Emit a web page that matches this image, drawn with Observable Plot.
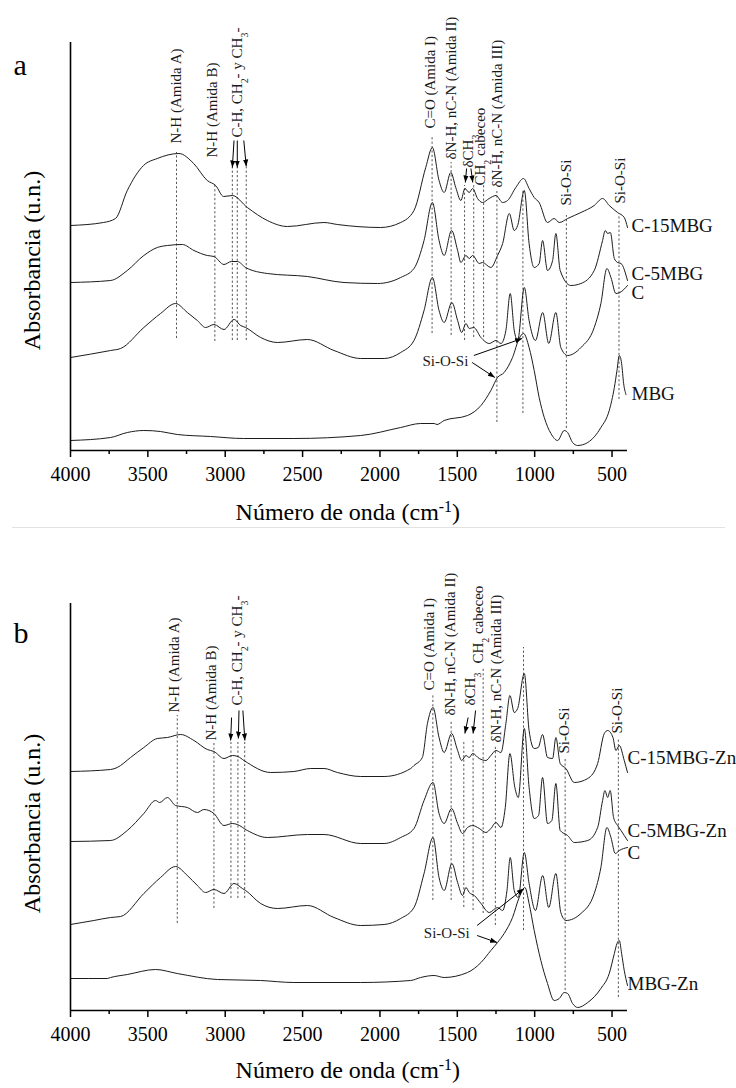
<!DOCTYPE html>
<html><head><meta charset="utf-8">
<script src="https://cdn.jsdelivr.net/npm/d3@7"></script>
<script src="https://cdn.jsdelivr.net/npm/@observablehq/plot@0.6"></script>
<style>
body{margin:0;background:#fff;}
#sep{height:1px;background:#e2e2e2;margin-left:12px;width:713px;}
</style></head>
<body><div id="chart"></div>
<script>
// ---------- axis ticks ----------
const majorTicks = [4000, 3500, 3000, 2500, 2000, 1500, 1000, 500];
const minorTicks = [3750, 3250, 2750, 2250, 1750, 1250, 750];
const xTitle = "Número de onda (cm^{-1})";
const yTitle = "Absorbancia (u.n.)";

// ---------- panel a spectra: [wavenumber, absorbance (offset, u.n.)] ----------
const a_C15MBG = [[4000,2.25],[3787,2.28],[3709,2.32],[3633,2.60],[3528,2.85],[3439,2.92],[3299,2.97],[3204,2.87],[3116,2.70],[3062,2.65],[3010,2.54],[2954,2.55],[2857,2.43],[2728,2.30],[2598,2.24],[2362,2.28],[2275,2.26],[1995,2.23],[1866,2.28],[1780,2.40],[1704,2.83],[1661,3.03],[1618,2.70],[1585,2.58],[1542,2.78],[1510,2.63],[1477,2.50],[1451,2.62],[1423,2.58],[1401,2.62],[1369,2.52],[1337,2.48],[1294,2.52],[1250,2.55],[1207,2.48],[1175,2.50],[1122,2.63],[1072,2.72],[1036,2.62],[1003,2.53],[971,2.48],[917,2.28],[874,2.32],[841,2.28],[787,2.32],[701,2.38],[615,2.45],[561,2.52],[518,2.45],[464,2.38],[421,2.33],[400,2.23]];
const a_C5MBG = [[4000,1.68],[3741,1.70],[3633,1.80],[3526,1.95],[3439,2.03],[3374,2.05],[3277,2.06],[3202,2.00],[3116,1.95],[3073,1.94],[3008,1.86],[2960,1.89],[2922,1.89],[2868,1.83],[2728,1.77],[2469,1.74],[2232,1.68],[2016,1.67],[1866,1.73],[1780,1.82],[1715,2.10],[1661,2.48],[1618,2.10],[1585,1.95],[1537,2.20],[1498,2.00],[1477,1.88],[1444,1.95],[1423,1.92],[1401,1.95],[1358,1.87],[1337,1.88],[1283,1.83],[1240,1.95],[1207,2.07],[1164,2.37],[1132,2.20],[1110,2.25],[1067,2.60],[1036,2.07],[1003,1.83],[971,1.87],[949,2.10],[917,1.80],[884,1.90],[863,2.17],[835,1.80],[766,1.65],[701,1.67],[615,1.80],[561,2.10],[544,2.20],[528,2.17],[511,2.18],[485,1.92],[464,1.88],[442,1.87],[400,1.70]];
const a_C = [[4000,0.93],[3741,1.00],[3676,1.02],[3526,1.23],[3418,1.37],[3321,1.47],[3245,1.38],[3180,1.30],[3127,1.23],[3073,1.26],[3008,1.21],[2943,1.31],[2900,1.25],[2868,1.23],[2771,1.13],[2663,1.08],[2469,1.11],[2297,1.00],[2124,0.92],[1973,0.92],[1866,0.98],[1780,1.10],[1715,1.40],[1661,1.73],[1618,1.40],[1585,1.28],[1535,1.48],[1498,1.30],[1472,1.18],[1444,1.27],[1423,1.22],[1394,1.23],[1347,1.13],[1294,1.07],[1250,1.10],[1218,1.07],[1186,1.20],[1158,1.57],[1132,1.20],[1110,1.10],[1067,1.63],[1036,1.30],[995,1.10],[948,1.38],[909,1.07],[863,1.38],[831,1.03],[787,0.95],[701,1.03],[615,1.23],[572,1.47],[533,1.82],[507,1.73],[475,1.57],[449,1.58],[400,1.65]];
const a_MBG = [[4000,0.10],[3741,0.13],[3633,0.18],[3526,0.20],[3418,0.19],[3310,0.16],[3095,0.14],[2880,0.12],[2556,0.12],[2124,0.15],[1866,0.23],[1737,0.27],[1650,0.27],[1631,0.26],[1585,0.30],[1434,0.35],[1347,0.45],[1283,0.60],[1240,0.73],[1197,0.78],[1143,0.93],[1100,1.12],[1072,1.17],[1036,1.03],[1003,0.80],[971,0.53],[938,0.33],[895,0.17],[852,0.10],[809,0.20],[787,0.18],[755,0.08],[722,0.05],[657,0.08],[572,0.23],[518,0.40],[485,0.63],[468,0.80],[453,0.95],[438,0.87],[425,0.67],[410,0.56]];

// ---------- panel b spectra ----------
const b_C15MBGZn = [[4000,2.39],[3741,2.41],[3698,2.43],[3612,2.53],[3526,2.63],[3439,2.72],[3374,2.73],[3288,2.76],[3202,2.70],[3116,2.61],[3073,2.59],[3008,2.52],[2954,2.55],[2918,2.54],[2879,2.50],[2706,2.38],[2556,2.39],[2447,2.42],[2362,2.42],[2275,2.38],[2124,2.34],[1973,2.34],[1801,2.42],[1780,2.45],[1726,2.53],[1693,2.87],[1657,3.03],[1618,2.73],[1585,2.58],[1537,2.77],[1498,2.60],[1472,2.50],[1444,2.55],[1423,2.53],[1401,2.57],[1358,2.52],[1315,2.50],[1283,2.55],[1250,2.60],[1218,2.58],[1186,2.87],[1160,3.15],[1132,2.98],[1110,3.02],[1067,3.37],[1036,2.80],[1003,2.62],[977,2.63],[949,2.76],[917,2.53],[884,2.52],[863,2.73],[835,2.47],[798,2.42],[744,2.28],[657,2.32],[593,2.47],[550,2.77],[528,2.80],[494,2.73],[475,2.60],[453,2.65],[421,2.50],[400,2.38]];
const b_C5MBGZn = [[4000,1.69],[3741,1.70],[3633,1.80],[3526,1.97],[3450,2.10],[3424,2.08],[3374,2.13],[3321,2.05],[3245,2.03],[3180,1.98],[3138,2.01],[3073,1.97],[3008,1.85],[2954,1.87],[2922,1.86],[2857,1.80],[2728,1.73],[2469,1.76],[2362,1.76],[2124,1.67],[1973,1.67],[1866,1.73],[1780,1.82],[1715,2.10],[1657,2.28],[1618,1.97],[1585,1.87],[1537,2.02],[1498,1.87],[1466,1.77],[1434,1.83],[1401,1.85],[1358,1.82],[1315,1.78],[1283,1.82],[1250,1.88],[1218,1.83],[1190,2.03],[1160,2.57],[1128,2.23],[1106,2.13],[1067,2.82],[1036,2.23],[1003,1.92],[975,1.95],[949,2.33],[917,1.87],[889,1.90],[863,2.27],[835,1.80],[787,1.75],[744,1.68],[657,1.70],[593,1.83],[561,2.10],[546,2.20],[528,2.13],[512,2.20],[490,1.93],[464,1.85],[442,1.80],[400,1.70]];
const b_C = [[4000,0.86],[3849,0.90],[3741,0.93],[3676,0.94],[3526,1.17],[3418,1.33],[3321,1.44],[3245,1.35],[3180,1.25],[3127,1.18],[3073,1.21],[3008,1.17],[2943,1.27],[2889,1.22],[2868,1.20],[2771,1.07],[2663,1.02],[2469,1.05],[2297,0.93],[2124,0.85],[1973,0.86],[1866,0.92],[1780,1.03],[1715,1.37],[1657,1.73],[1618,1.33],[1585,1.20],[1535,1.47],[1498,1.28],[1466,1.15],[1444,1.23],[1423,1.18],[1390,1.15],[1347,1.07],[1294,0.98],[1240,1.03],[1207,1.00],[1179,1.20],[1158,1.53],[1132,1.20],[1106,1.13],[1067,1.58],[1036,1.27],[995,1.00],[948,1.35],[909,1.03],[863,1.37],[831,0.98],[798,0.90],[701,0.97],[615,1.17],[572,1.43],[533,1.83],[507,1.73],[479,1.57],[453,1.60],[400,1.63]];
const b_MBGZn = [[4000,0.32],[3763,0.32],[3741,0.33],[3633,0.36],[3450,0.41],[3310,0.37],[3051,0.31],[2771,0.30],[2556,0.28],[2124,0.28],[1801,0.30],[1737,0.33],[1650,0.35],[1585,0.33],[1434,0.38],[1347,0.48],[1283,0.60],[1240,0.68],[1197,0.77],[1143,0.93],[1100,1.13],[1063,1.23],[1036,1.07],[1003,0.80],[960,0.50],[917,0.27],[874,0.10],[841,0.12],[809,0.18],[787,0.17],[755,0.07],[722,0.03],[657,0.08],[572,0.22],[518,0.37],[485,0.57],[468,0.67],[453,0.70],[438,0.57],[421,0.40],[400,0.25]];

// ---------- band guides: [wavenumber, bottom, top] ----------
const a_guides = [[3315,1.12,2.98],[3067,1.09,2.67],[2954,1.10,2.83],[2922,1.10,2.83],[2864,1.10,2.83],[1663,1.17,3.15],[1540,1.15,2.88],[1453,1.10,2.65],[1394,1.13,2.65],[1330,1.13,2.65],[1244,0.28,2.60],[1076,0.37,2.60],[795,0.22,2.35],[455,0.51,2.35]];
const b_guides = [[3310,0.87,2.95],[3073,1.02,2.67],[2963,1.12,2.68],[2918,1.12,2.68],[2874,1.12,2.68],[1658,1.10,3.15],[1540,1.10,2.90],[1458,1.03,2.70],[1398,1.00,2.70],[1333,0.97,3.42],[1254,0.85,2.65],[1072,0.80,3.63],[803,0.20,2.53],[459,0.13,2.72]];

// ---------- band labels: [wavenumber, start, text] ----------
const a_bands = [[3315,3.07,"N-H (Amida A)"],[3084,2.93,"N-H (Amida B)"],[2922,3.13,"C-H, CH_{2}- y CH_{3}-"],[1674,3.22,"C=O (Amida I)"],[1538,2.91,"δN-H, nC-N (Amida II)"],[1427,2.83,"δCH_{3}"],[1351,2.65,"CH_{2} cabeceo"],[1244,2.63,"δN-H, nC-N (Amida III)"],[797,2.45,"Si-O-Si"],[446,2.47,"Si-O-Si"]];
const b_bands = [[3332,2.98,"N-H (Amida A)"],[3090,2.70,"N-H (Amida B)"],[2922,3.05,"C-H, CH_{2}- y CH_{3}-"],[1679,3.20,"C=O (Amida I)"],[1545,2.95,"δN-H, nC-N (Amida II)"],[1416,3.05,"δCH_{3}"],[1362,3.47,"CH_{2} cabeceo"],[1250,2.68,"δN-H, nC-N (Amida III)"],[812,2.57,"Si-O-Si"],[468,2.77,"Si-O-Si"]];

// ---------- arrows: [wn1, a1, wn2, a2] ----------
const a_arrows = [[2943,3.10,2954,2.83],[2922,3.10,2922,2.83],[2880,3.10,2864,2.84],[1440,2.82,1448,2.68],[1412,2.82,1400,2.68],[1393,0.95,1081,1.12],[1404,0.88,1257,0.73]];
const b_arrows = [[2959,2.93,2965,2.70],[2911,3.00,2915,2.72],[2886,3.00,2873,2.70],[1430,2.93,1451,2.77],[1382,3.00,1398,2.77],[1372,0.85,1070,1.22],[1372,0.75,1243,0.68]];

// ---------- series labels ----------
const a_names = ["C-15MBG","C-5MBG","C","MBG"];
const a_nameY = [2.25,1.77,1.58,0.57];
const b_names = ["C-15MBG-Zn","C-5MBG-Zn","C","MBG-Zn"];
const b_nameY = [2.53,1.80,1.58,0.27];

const ns = "http://www.w3.org/2000/svg";
function headMarker(color) {
  const m = document.createElementNS(ns, "marker");
  m.setAttribute("viewBox", "-7 -4 8 8");
  m.setAttribute("markerWidth", "8");
  m.setAttribute("markerHeight", "8");
  m.setAttribute("markerUnits", "userSpaceOnUse");
  m.setAttribute("orient", "auto");
  m.setAttribute("refX", "0");
  m.setAttribute("refY", "0");
  const p = document.createElementNS(ns, "path");
  p.setAttribute("d", "M-7,-2.6L0,0L-7,2.6Z");
  p.setAttribute("fill", (!color || color === "currentColor") ? "#000" : color);
  p.setAttribute("stroke", "none");
  m.appendChild(p);
  return m;
}

function rich(root) {
  root.querySelectorAll("text").forEach(t => {
    const s = t.textContent;
    if (!/[_^]\{/.test(s)) return;
    while (t.firstChild) t.removeChild(t.firstChild);
    const add = (str, kind) => {
      const sp = document.createElementNS(ns, "tspan");
      sp.textContent = str;
      if (kind) {
        sp.style.fontSize = "66%";
        sp.setAttribute("baseline-shift", kind === "_" ? "sub" : "super");
      }
      t.appendChild(sp);
    };
    const re = /([_^])\{([^}]*)\}/g;
    let last = 0, m;
    while ((m = re.exec(s))) {
      if (m.index > last) add(s.slice(last, m.index));
      add(m[2], m[1]);
      last = re.lastIndex;
    }
    if (last < s.length) add(s.slice(last));
  });
}

function makePanel(p, useCustomMarker) {
  const rows = p.series.flatMap(s => s.data.map(([wn, a]) => ({name: s.name, wn, a})));
  const guides = p.guides.map(([wn, y1, y2]) => ({wn, y1, y2}));
  const bands = p.bands.map(([wn, a, t]) => ({wn, a, t}));
  const arrows = p.arrows.map(([x1, y1, x2, y2]) => ({x1, y1, x2, y2}));
  const names = p.names.map((t, i) => ({t, a: p.nameY[i]}));
  return Plot.plot({
    width: 736,
    height: p.height,
    marginTop: p.marginTop,
    marginBottom: p.marginBottom,
    marginLeft: 70,
    marginRight: 109,
    style: {fontFamily: "'Liberation Serif','Times New Roman',serif", background: "#fff", color: "#000", overflow: "visible"},
    x: {domain: [4000, 400], axis: null},
    y: {domain: [0, p.yTop], axis: null},
    marks: [
      Plot.ruleX(guides, {x: "wn", y1: "y1", y2: "y2", stroke: "#555", strokeWidth: 1, strokeDasharray: "2.2,2.2"}),
      Plot.line(rows, {x: "wn", y: "a", z: "name", stroke: "#1c1c1c", strokeWidth: 1, curve: "monotone-x"}),
      Plot.ruleY([0], {x1: 4000, x2: 400, stroke: "#000", strokeWidth: 1.6}),
      Plot.ruleX([4000], {y1: 0, y2: p.yTop, stroke: "#000", strokeWidth: 1.6}),
      Plot.axisX({ticks: majorTicks, tickSize: 7, tickPadding: 9, fontSize: 20, tickFormat: d => String(d), strokeWidth: 1.5, label: null}),
      Plot.axisX({ticks: minorTicks, tickSize: 4, tickFormat: () => "", strokeWidth: 1.5, label: null}),
      Plot.text(bands, {x: "wn", y: "a", text: "t", rotate: -90, textAnchor: "start", fontSize: 15, fill: "#1a1a1a"}),
      Plot.text(names, {x: 400, y: "a", text: "t", dx: p.nameDx, textAnchor: "start", fontSize: 19, fill: "#111"}),
      Plot.text(["Si-O-Si"], {x: p.sio[0], y: p.sio[1], text: d => d, textAnchor: "middle", fontSize: 15, fill: "#1a1a1a"}),
      Plot.link(arrows, {x1: "x1", y1: "y1", x2: "x2", y2: "y2", stroke: "#000", strokeWidth: 1, markerEnd: useCustomMarker ? headMarker : "arrow"}),
      Plot.text([xTitle], {x: 2208, y: 0, dy: p.titleDy, text: d => d, textAnchor: "middle", fontSize: 24, fill: "#000"}),
      Plot.text([yTitle], {x: 4000, y: p.yTitleY, dx: -38, text: d => d, rotate: -90, textAnchor: "middle", fontSize: 24, fill: "#000"}),
      Plot.text([p.tag], {x: 4000, y: p.tagY, dx: -57, text: d => d, textAnchor: "start", fontSize: 30, fill: "#000"})
    ]
  });
}

const panelA = {
  height: 527, marginTop: 42, marginBottom: 77, yTop: 4.08,
  series: [{name: "C-15MBG", data: a_C15MBG}, {name: "C-5MBG", data: a_C5MBG}, {name: "C", data: a_C}, {name: "MBG", data: a_MBG}],
  guides: a_guides, bands: a_bands, arrows: a_arrows,
  names: a_names, nameY: a_nameY, nameDx: 4,
  sio: [1577, 0.89], titleDy: 62, yTitleY: 1.9, tag: "a", tagY: 3.85
};
const panelB = {
  height: 560, marginTop: 75, marginBottom: 78, yTop: 4.07,
  series: [{name: "C-15MBG-Zn", data: b_C15MBGZn}, {name: "C-5MBG-Zn", data: b_C5MBGZn}, {name: "C", data: b_C}, {name: "MBG-Zn", data: b_MBGZn}],
  guides: b_guides, bands: b_bands, arrows: b_arrows,
  names: b_names, nameY: b_nameY, nameDx: 0,
  sio: [1568, 0.77], titleDy: 60, yTitleY: 1.87, tag: "b", tagY: 3.77
};

function build(p) {
  let svg;
  try { svg = makePanel(p, true); } catch (e) { svg = makePanel(p, false); }
  rich(svg);
  return svg;
}

const root = document.getElementById("chart");
root.appendChild(build(panelA));
const sep = document.createElement("div");
sep.id = "sep";
root.appendChild(sep);
root.appendChild(build(panelB));
</script>
</body></html>
